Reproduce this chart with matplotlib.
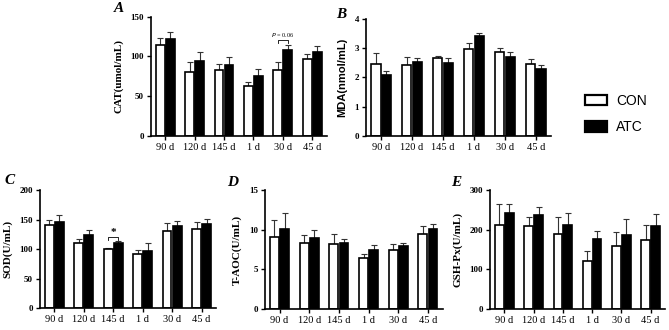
import matplotlib
matplotlib.use("Agg")
import matplotlib.pyplot as plt
from matplotlib.patches import Patch
import numpy as np

days = ["90 d", "120 d", "145 d", "1 d", "30 d", "45 d"]

cat_con = [114, 80.7, 82.4, 63, 82.8, 97]
cat_con_sd = [9, 11.7, 8, 4.6, 10.5, 5.5]
cat_atc = [121.4, 93.7, 88.7, 75.6, 107.6, 105]
cat_atc_sd = [9.3, 11.3, 10.3, 8.9, 6.4, 8.4]

mda_con = [2.47, 2.43, 2.66, 2.98, 2.88, 2.47]
mda_con_sd = [0.36, 0.28, 0.07, 0.2, 0.12, 0.16]
mda_atc = [2.09, 2.53, 2.49, 3.41, 2.71, 2.28]
mda_atc_sd = [0.14, 0.13, 0.17, 0.12, 0.17, 0.16]

sod_con = [141, 111, 99.5, 92.5, 130.5, 133.5]
sod_con_sd = [9, 7, 3, 6.5, 13, 12]
sod_atc = [146, 124, 110.5, 97.5, 139, 142]
sod_atc_sd = [12, 9, 3, 12.5, 8, 9]

taoc_con = [9.05, 8.3, 8.2, 6.45, 7.4, 9.45]
taoc_con_sd = [2.2, 1.05, 1.3, 0.5, 0.8, 1.05]
taoc_atc = [10.1, 8.9, 8.3, 7.4, 8.0, 10.1]
taoc_atc_sd = [2.0, 1.05, 0.56, 0.7, 0.3, 0.65]

gsh_con = [213, 210, 189, 122, 159, 175]
gsh_con_sd = [51, 22, 43, 25, 34, 36]
gsh_atc = [242, 236, 213, 176, 187, 209]
gsh_atc_sd = [22, 21, 28, 20, 40, 31]

serif = "Liberation Serif"
sans = "Liberation Sans"

fig = plt.figure(figsize=(6.69, 3.3), dpi=100)
W, H = 669.0, 330.0


def make_ax(left, right, top, bottom):
    return fig.add_axes([left / W, 1 - bottom / H, (right - left) / W, (bottom - top) / H])


def draw_panel(ax, con, con_sd, atc, atc_sd, ymax, ystep, ylabel, letter, lpos, label_font=serif):
    x = np.arange(len(days))
    w = 0.3
    off = 0.17
    ax.bar(x - off, con, w, color="white", edgecolor="black", linewidth=1.2, zorder=2)
    ax.bar(x + off, atc, w, color="black", edgecolor="black", linewidth=1.2, zorder=2)
    ax.errorbar(x - off, con, yerr=[np.zeros(len(con)), con_sd], fmt="none",
                ecolor="#333333", elinewidth=0.8, capsize=2.2, capthick=0.8, zorder=1)
    ax.errorbar(x + off, atc, yerr=[np.zeros(len(atc)), atc_sd], fmt="none",
                ecolor="#333333", elinewidth=0.8, capsize=2.2, capthick=0.8, zorder=1)
    ax.set_xlim(-0.49, 5.49)
    ax.set_ylim(0, ymax)
    ax.set_yticks(np.arange(0, ymax + ystep / 2, ystep))
    ax.set_xticks(x)
    ax.set_xticklabels(days, fontfamily=serif, fontsize=7.5)
    for t in ax.get_yticklabels():
        t.set_fontfamily(serif)
        t.set_fontweight("bold")
        t.set_fontsize(6.5)
    ax.spines["top"].set_visible(False)
    ax.spines["right"].set_visible(False)
    ax.spines["left"].set_linewidth(1.2)
    ax.spines["bottom"].set_linewidth(1.2)
    ax.tick_params(axis="both", width=1.0, length=3, pad=2)
    ax.set_ylabel(ylabel, fontfamily=label_font, fontweight="bold", fontsize=8, labelpad=5)
    fig.text(lpos[0] / W, 1 - lpos[1] / H, letter, fontfamily=serif,
             fontweight="bold", fontstyle="italic", fontsize=11, ha="center", va="center")


ax_a = make_ax(150.7, 326.7, 16.7, 135.7)
draw_panel(ax_a, cat_con, cat_con_sd, cat_atc, cat_atc_sd, 150, 50, "CAT(umol/mL)", "A", (119, 9))
ax_a.plot([4 - 0.17, 4 - 0.17, 4 + 0.17, 4 + 0.17], [116.5, 120, 120, 116.5], color="black", lw=0.6)
ax_a.text(4, 122, "$\\it{P}$ = 0.06", fontfamily=serif, fontsize=4.5, ha="center", va="bottom")

ax_b = make_ax(366, 551, 19, 135.7)
draw_panel(ax_b, mda_con, mda_con_sd, mda_atc, mda_atc_sd, 4, 1, "MDA(nmol/mL)", "B", (341, 15),
           label_font=sans)

ax_c = make_ax(39.7, 216, 190, 308.3)
draw_panel(ax_c, sod_con, sod_con_sd, sod_atc, sod_atc_sd, 200, 50, "SOD(U/mL)", "C", (10, 181))
ax_c.plot([2 - 0.17, 2 - 0.17, 2 + 0.17, 2 + 0.17], [115.5, 120, 120, 115.5], color="black", lw=0.6)
ax_c.text(2, 121, "*", fontfamily=serif, fontweight="bold", fontsize=8, ha="center", va="bottom")

ax_d = make_ax(265, 442.5, 190, 309)
draw_panel(ax_d, taoc_con, taoc_con_sd, taoc_atc, taoc_atc_sd, 15, 5, "T-AOC(U/mL)", "D", (233, 182))

ax_e = make_ax(490, 665, 190, 309)
draw_panel(ax_e, gsh_con, gsh_con_sd, gsh_atc, gsh_atc_sd, 300, 100, "GSH-Px(U/mL)", "E", (456, 182))

handles = [Patch(facecolor="white", edgecolor="black", linewidth=1.6),
           Patch(facecolor="black", edgecolor="black", linewidth=1.6)]
fig.legend(handles, ["CON", "ATC"], loc="center left", bbox_to_anchor=(572 / W, 1 - 114 / H),
           frameon=False, prop={"family": sans, "size": 10}, handlelength=1.6,
           handleheight=0.8, handletextpad=0.7, labelspacing=0.9)

fig.savefig("out.png", dpi=100)
